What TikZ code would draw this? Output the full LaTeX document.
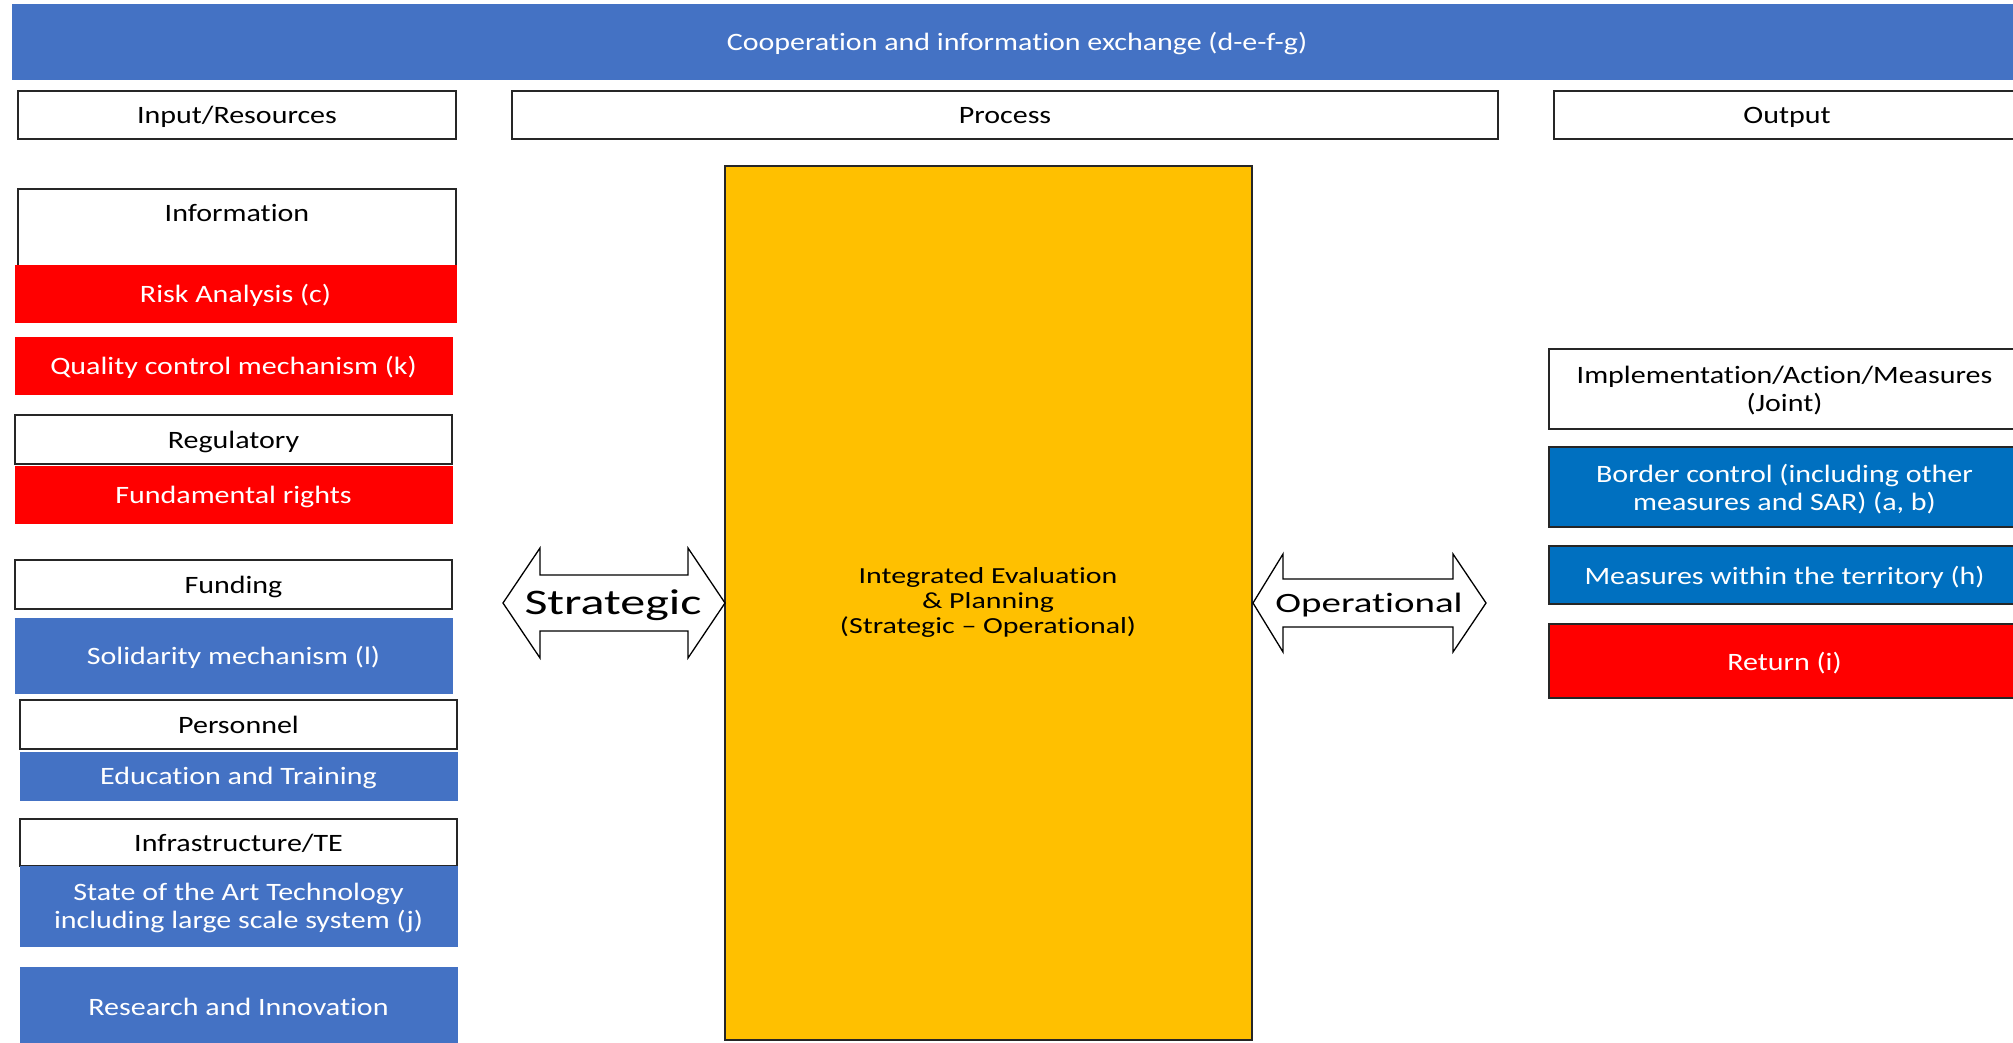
\documentclass[tikz,border=0pt]{standalone}
\usepackage{fontspec}
\defaultfontfeatures{Ligatures={TeX,NoCommon}, Contextuals={NoAlternate}, RawFeature={-dlig;-calt;-liga}}
\setmainfont{Carlito}[FakeStretch=1.2]
\newfontfamily\yfont{Carlito}[FakeStretch=1.3]
\newfontfamily\afont{Carlito}[FakeStretch=1.39]
\definecolor{bannerblue}{HTML}{4472C4}
\definecolor{boxred}{HTML}{FF0000}
\definecolor{outblue}{HTML}{0070C0}
\definecolor{gold}{HTML}{FFC000}
\begin{document}
\begin{tikzpicture}[x=1pt,y=-1pt,
  every node/.style={font=\fontsize{25}{28}\selectfont, align=center, inner sep=0pt},
  boxtext/.style={text depth=0pt},
  wbox/.style={boxtext, draw=black!85, fill=white, line width=1.5pt, text=black},
  rbox/.style={boxtext, fill=boxred, draw=boxred, text=white},
  bbox/.style={boxtext, fill=bannerblue, draw=bannerblue, text=white},
  obox/.style={boxtext, fill=outblue, draw=black!85, line width=1.5pt, text=white},
  retbox/.style={boxtext, fill=boxred, draw=black!85, line width=1.5pt, text=white},
  goldbox/.style={fill=gold, draw=black!85, line width=1.2pt, text=black},
  dblarrow/.style={fill=white, draw=black, line width=1.3pt, line join=miter},
  sz/.style 2 args={minimum width=#1, minimum height=#2},
]
\useasboundingbox (0,0) rectangle (2013,1042);

% banner and headers
\node[bbox, sz={2010}{75}] (coop) at (1017,41.5) {Cooperation and information exchange (d-e-f-g)};
\node[wbox, sz={438}{48}] (inres) at (237,115) {Input/Resources};
\node[wbox, sz={986}{48}] (process) at (1005,115) {Process};
\node[wbox, sz={466}{48}] (output) at (1787,115) {Output};

% left column
\node[wbox, sz={438}{77}] (info) at (237,227.5) {};
\node[anchor=base] (infotxt) at (237,221) {Information};
\node[rbox, sz={441}{57}] (risk) at (235.5,293.5) {Risk Analysis (c)};
\node[rbox, sz={437}{57}] (quality) at (233.5,365.5) {Quality control mechanism (k)};
\node[wbox, sz={437}{49}] (regul) at (233.5,439.5) {Regulatory};
\node[rbox, sz={437}{57}] (fundr) at (233.5,494.5) {Fundamental rights};
\node[wbox, sz={437}{49}] (funding) at (233.5,584.5) {Funding};
\node[bbox, sz={437}{75}] (solid) at (233.5,655.5) {Solidarity mechanism (l)};
\node[wbox, sz={437}{49}] (personnel) at (238.5,724.5) {Personnel};
\node[bbox, sz={437}{48}] (edu) at (238.5,776) {Education and Training};
\node[wbox, sz={437}{47}] (infra) at (238.5,842.5) {Infrastructure/TE};
\node[bbox, sz={437}{80}] (state) at (238.5,906) {State of the Art Technology\\including large scale system (j)};
\node[bbox, sz={437}{80}] (research) at (238.5,1007) {Research and Innovation};

% central block
\node[goldbox, sz={527}{874}] (iep) at (988.5,603) {};
\node[font=\yfont\fontsize{23}{25}\selectfont] (ieptxt) at (988,602) {Integrated Evaluation\\\& Planning\\(Strategic \textendash{} Operational)};

% strategic arrow
\draw[dblarrow] (503,603) -- (540,548) -- (540,575) -- (688,575) -- (688,548) -- (725,603)
  -- (688,658) -- (688,631) -- (540,631) -- (540,658) -- cycle;
\node[anchor=base, font=\afont\fontsize{36}{40}\selectfont] (strat) at (613,614) {Strategic};

% operational arrow
\draw[dblarrow] (1253,603) -- (1283,554) -- (1283,579) -- (1453,579) -- (1453,554) -- (1486,603)
  -- (1453,652) -- (1453,627) -- (1283,627) -- (1283,652) -- cycle;
\node[anchor=base, font=\afont\fontsize{28}{32}\selectfont] (oper) at (1369,612) {Operational};

% right column
\node[wbox, sz={471}{80}] (impl) at (1784.5,389) {Implementation/Action/Measures\\(Joint)};
\node[obox, sz={471}{80}] (border) at (1784.5,487) {Border control (including other\\measures and SAR) (a, b)};
\node[obox, sz={471}{58}] (measures) at (1784.5,575) {Measures within the territory (h)};
\node[retbox, sz={471}{74}] (ret) at (1784.5,661) {Return (i)};
\end{tikzpicture}
\end{document}
